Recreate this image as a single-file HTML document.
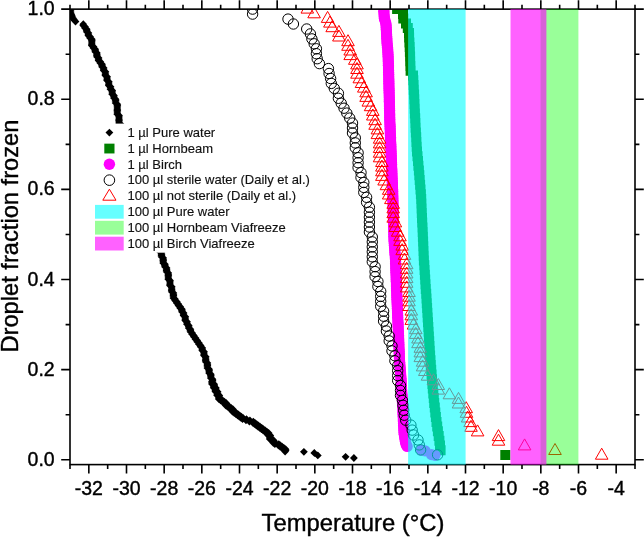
<!DOCTYPE html>
<html><head><meta charset="utf-8"><style>
html,body{margin:0;padding:0;background:#fff;}
svg{display:block;font-family:"Liberation Sans",sans-serif;fill:#000;will-change:transform;}
text{fill:#000;stroke:#000;stroke-width:0.4px;}
</style></head><body>
<svg width="644" height="537" viewBox="0 0 644 537">
<defs><clipPath id="pc"><rect x="70.0" y="9.15" width="565.0" height="455.45000000000005"/></clipPath></defs>
<rect width="644" height="537" fill="#fff"/>
<g clip-path="url(#pc)">
<path d="M70.3 5.7l3.9 3.9 -3.9 3.9 -3.9 -3.9zM70.5 6.9l3.9 3.9 -3.9 3.9 -3.9 -3.9zM70.7 8.1l3.9 3.9 -3.9 3.9 -3.9 -3.9zM70.9 9.3l3.9 3.9 -3.9 3.9 -3.9 -3.9zM71.3 10.5l3.9 3.9 -3.9 3.9 -3.9 -3.9zM71.7 11.7l3.9 3.9 -3.9 3.9 -3.9 -3.9zM72.1 12.9l3.9 3.9 -3.9 3.9 -3.9 -3.9zM72.8 14.1l3.9 3.9 -3.9 3.9 -3.9 -3.9zM73.7 15.3l3.9 3.9 -3.9 3.9 -3.9 -3.9zM74.6 16.5l3.9 3.9 -3.9 3.9 -3.9 -3.9zM75.5 17.7l3.9 3.9 -3.9 3.9 -3.9 -3.9zM83.3 20.3l3.9 3.9 -3.9 3.9 -3.9 -3.9zM83.3 21.6l3.9 3.9 -3.9 3.9 -3.9 -3.9zM85.0 22.8l3.9 3.9 -3.9 3.9 -3.9 -3.9zM85.0 24.1l3.9 3.9 -3.9 3.9 -3.9 -3.9zM86.7 25.3l3.9 3.9 -3.9 3.9 -3.9 -3.9zM86.7 26.6l3.9 3.9 -3.9 3.9 -3.9 -3.9zM86.7 27.8l3.9 3.9 -3.9 3.9 -3.9 -3.9zM88.4 29.1l3.9 3.9 -3.9 3.9 -3.9 -3.9zM88.4 30.3l3.9 3.9 -3.9 3.9 -3.9 -3.9zM88.4 31.6l3.9 3.9 -3.9 3.9 -3.9 -3.9zM90.1 32.8l3.9 3.9 -3.9 3.9 -3.9 -3.9zM90.1 34.1l3.9 3.9 -3.9 3.9 -3.9 -3.9zM91.8 35.3l3.9 3.9 -3.9 3.9 -3.9 -3.9zM91.8 36.6l3.9 3.9 -3.9 3.9 -3.9 -3.9zM91.8 37.8l3.9 3.9 -3.9 3.9 -3.9 -3.9zM91.8 39.1l3.9 3.9 -3.9 3.9 -3.9 -3.9zM91.8 40.3l3.9 3.9 -3.9 3.9 -3.9 -3.9zM91.8 41.6l3.9 3.9 -3.9 3.9 -3.9 -3.9zM93.5 42.8l3.9 3.9 -3.9 3.9 -3.9 -3.9zM93.5 44.1l3.9 3.9 -3.9 3.9 -3.9 -3.9zM95.2 45.3l3.9 3.9 -3.9 3.9 -3.9 -3.9zM95.2 46.6l3.9 3.9 -3.9 3.9 -3.9 -3.9zM95.2 47.8l3.9 3.9 -3.9 3.9 -3.9 -3.9zM96.9 49.1l3.9 3.9 -3.9 3.9 -3.9 -3.9zM96.9 50.3l3.9 3.9 -3.9 3.9 -3.9 -3.9zM96.9 51.6l3.9 3.9 -3.9 3.9 -3.9 -3.9zM96.9 52.8l3.9 3.9 -3.9 3.9 -3.9 -3.9zM98.6 54.1l3.9 3.9 -3.9 3.9 -3.9 -3.9zM98.6 55.3l3.9 3.9 -3.9 3.9 -3.9 -3.9zM98.6 56.6l3.9 3.9 -3.9 3.9 -3.9 -3.9zM100.3 57.8l3.9 3.9 -3.9 3.9 -3.9 -3.9zM100.3 59.1l3.9 3.9 -3.9 3.9 -3.9 -3.9zM102.0 60.3l3.9 3.9 -3.9 3.9 -3.9 -3.9zM102.0 61.6l3.9 3.9 -3.9 3.9 -3.9 -3.9zM102.0 62.8l3.9 3.9 -3.9 3.9 -3.9 -3.9zM103.7 64.0l3.9 3.9 -3.9 3.9 -3.9 -3.9zM103.7 65.3l3.9 3.9 -3.9 3.9 -3.9 -3.9zM103.7 66.5l3.9 3.9 -3.9 3.9 -3.9 -3.9zM105.4 67.8l3.9 3.9 -3.9 3.9 -3.9 -3.9zM105.4 69.0l3.9 3.9 -3.9 3.9 -3.9 -3.9zM105.4 70.3l3.9 3.9 -3.9 3.9 -3.9 -3.9zM105.4 71.5l3.9 3.9 -3.9 3.9 -3.9 -3.9zM107.1 72.8l3.9 3.9 -3.9 3.9 -3.9 -3.9zM107.1 74.0l3.9 3.9 -3.9 3.9 -3.9 -3.9zM107.1 75.3l3.9 3.9 -3.9 3.9 -3.9 -3.9zM107.1 76.5l3.9 3.9 -3.9 3.9 -3.9 -3.9zM108.8 77.8l3.9 3.9 -3.9 3.9 -3.9 -3.9zM108.8 79.0l3.9 3.9 -3.9 3.9 -3.9 -3.9zM108.8 80.3l3.9 3.9 -3.9 3.9 -3.9 -3.9zM108.8 81.5l3.9 3.9 -3.9 3.9 -3.9 -3.9zM110.5 82.8l3.9 3.9 -3.9 3.9 -3.9 -3.9zM110.5 84.0l3.9 3.9 -3.9 3.9 -3.9 -3.9zM110.5 85.3l3.9 3.9 -3.9 3.9 -3.9 -3.9zM112.2 86.5l3.9 3.9 -3.9 3.9 -3.9 -3.9zM112.2 87.8l3.9 3.9 -3.9 3.9 -3.9 -3.9zM112.2 89.0l3.9 3.9 -3.9 3.9 -3.9 -3.9zM112.2 90.3l3.9 3.9 -3.9 3.9 -3.9 -3.9zM113.9 91.5l3.9 3.9 -3.9 3.9 -3.9 -3.9zM113.9 92.8l3.9 3.9 -3.9 3.9 -3.9 -3.9zM113.9 94.0l3.9 3.9 -3.9 3.9 -3.9 -3.9zM115.6 95.3l3.9 3.9 -3.9 3.9 -3.9 -3.9zM115.6 96.5l3.9 3.9 -3.9 3.9 -3.9 -3.9zM115.6 97.8l3.9 3.9 -3.9 3.9 -3.9 -3.9zM115.6 99.0l3.9 3.9 -3.9 3.9 -3.9 -3.9zM117.3 100.3l3.9 3.9 -3.9 3.9 -3.9 -3.9zM117.3 101.5l3.9 3.9 -3.9 3.9 -3.9 -3.9zM117.3 102.8l3.9 3.9 -3.9 3.9 -3.9 -3.9zM117.3 104.0l3.9 3.9 -3.9 3.9 -3.9 -3.9zM117.3 105.3l3.9 3.9 -3.9 3.9 -3.9 -3.9zM117.3 106.5l3.9 3.9 -3.9 3.9 -3.9 -3.9zM117.3 107.8l3.9 3.9 -3.9 3.9 -3.9 -3.9zM117.3 109.0l3.9 3.9 -3.9 3.9 -3.9 -3.9zM117.3 110.3l3.9 3.9 -3.9 3.9 -3.9 -3.9zM119.0 111.5l3.9 3.9 -3.9 3.9 -3.9 -3.9zM119.0 112.8l3.9 3.9 -3.9 3.9 -3.9 -3.9zM119.0 114.0l3.9 3.9 -3.9 3.9 -3.9 -3.9zM119.0 115.3l3.9 3.9 -3.9 3.9 -3.9 -3.9zM119.0 116.5l3.9 3.9 -3.9 3.9 -3.9 -3.9zM119.0 117.8l3.9 3.9 -3.9 3.9 -3.9 -3.9zM119.0 119.0l3.9 3.9 -3.9 3.9 -3.9 -3.9zM120.7 120.3l3.9 3.9 -3.9 3.9 -3.9 -3.9zM120.7 121.5l3.9 3.9 -3.9 3.9 -3.9 -3.9zM120.7 122.8l3.9 3.9 -3.9 3.9 -3.9 -3.9zM120.7 124.0l3.9 3.9 -3.9 3.9 -3.9 -3.9zM120.7 125.3l3.9 3.9 -3.9 3.9 -3.9 -3.9zM122.4 126.5l3.9 3.9 -3.9 3.9 -3.9 -3.9zM122.4 127.8l3.9 3.9 -3.9 3.9 -3.9 -3.9zM122.4 129.0l3.9 3.9 -3.9 3.9 -3.9 -3.9zM122.4 130.3l3.9 3.9 -3.9 3.9 -3.9 -3.9zM124.1 131.5l3.9 3.9 -3.9 3.9 -3.9 -3.9zM124.1 132.8l3.9 3.9 -3.9 3.9 -3.9 -3.9zM124.1 134.0l3.9 3.9 -3.9 3.9 -3.9 -3.9zM124.1 135.3l3.9 3.9 -3.9 3.9 -3.9 -3.9zM125.8 136.5l3.9 3.9 -3.9 3.9 -3.9 -3.9zM125.8 137.8l3.9 3.9 -3.9 3.9 -3.9 -3.9zM125.8 139.0l3.9 3.9 -3.9 3.9 -3.9 -3.9zM125.8 140.3l3.9 3.9 -3.9 3.9 -3.9 -3.9zM125.8 141.5l3.9 3.9 -3.9 3.9 -3.9 -3.9zM127.5 142.8l3.9 3.9 -3.9 3.9 -3.9 -3.9zM127.5 144.0l3.9 3.9 -3.9 3.9 -3.9 -3.9zM127.5 145.3l3.9 3.9 -3.9 3.9 -3.9 -3.9zM127.5 146.5l3.9 3.9 -3.9 3.9 -3.9 -3.9zM129.2 147.8l3.9 3.9 -3.9 3.9 -3.9 -3.9zM129.2 149.0l3.9 3.9 -3.9 3.9 -3.9 -3.9zM129.2 150.3l3.9 3.9 -3.9 3.9 -3.9 -3.9zM129.2 151.5l3.9 3.9 -3.9 3.9 -3.9 -3.9zM130.9 152.8l3.9 3.9 -3.9 3.9 -3.9 -3.9zM130.9 154.0l3.9 3.9 -3.9 3.9 -3.9 -3.9zM130.9 155.3l3.9 3.9 -3.9 3.9 -3.9 -3.9zM130.9 156.5l3.9 3.9 -3.9 3.9 -3.9 -3.9zM132.6 157.8l3.9 3.9 -3.9 3.9 -3.9 -3.9zM132.6 159.0l3.9 3.9 -3.9 3.9 -3.9 -3.9zM132.6 160.3l3.9 3.9 -3.9 3.9 -3.9 -3.9zM132.6 161.5l3.9 3.9 -3.9 3.9 -3.9 -3.9zM132.6 162.8l3.9 3.9 -3.9 3.9 -3.9 -3.9zM134.3 164.0l3.9 3.9 -3.9 3.9 -3.9 -3.9zM134.3 165.3l3.9 3.9 -3.9 3.9 -3.9 -3.9zM134.3 166.5l3.9 3.9 -3.9 3.9 -3.9 -3.9zM134.3 167.8l3.9 3.9 -3.9 3.9 -3.9 -3.9zM136.0 169.0l3.9 3.9 -3.9 3.9 -3.9 -3.9zM136.0 170.3l3.9 3.9 -3.9 3.9 -3.9 -3.9zM136.0 171.5l3.9 3.9 -3.9 3.9 -3.9 -3.9zM136.0 172.8l3.9 3.9 -3.9 3.9 -3.9 -3.9zM137.7 174.0l3.9 3.9 -3.9 3.9 -3.9 -3.9zM137.7 175.3l3.9 3.9 -3.9 3.9 -3.9 -3.9zM137.7 176.5l3.9 3.9 -3.9 3.9 -3.9 -3.9zM137.7 177.8l3.9 3.9 -3.9 3.9 -3.9 -3.9zM139.4 179.0l3.9 3.9 -3.9 3.9 -3.9 -3.9zM139.4 180.3l3.9 3.9 -3.9 3.9 -3.9 -3.9zM139.4 181.5l3.9 3.9 -3.9 3.9 -3.9 -3.9zM139.4 182.8l3.9 3.9 -3.9 3.9 -3.9 -3.9zM139.4 184.0l3.9 3.9 -3.9 3.9 -3.9 -3.9zM141.1 185.3l3.9 3.9 -3.9 3.9 -3.9 -3.9zM141.1 186.5l3.9 3.9 -3.9 3.9 -3.9 -3.9zM141.1 187.8l3.9 3.9 -3.9 3.9 -3.9 -3.9zM141.1 189.0l3.9 3.9 -3.9 3.9 -3.9 -3.9zM142.8 190.3l3.9 3.9 -3.9 3.9 -3.9 -3.9zM142.8 191.5l3.9 3.9 -3.9 3.9 -3.9 -3.9zM142.8 192.8l3.9 3.9 -3.9 3.9 -3.9 -3.9zM142.8 194.0l3.9 3.9 -3.9 3.9 -3.9 -3.9zM144.5 195.3l3.9 3.9 -3.9 3.9 -3.9 -3.9zM144.5 196.5l3.9 3.9 -3.9 3.9 -3.9 -3.9zM144.5 197.8l3.9 3.9 -3.9 3.9 -3.9 -3.9zM144.5 199.0l3.9 3.9 -3.9 3.9 -3.9 -3.9zM144.5 200.3l3.9 3.9 -3.9 3.9 -3.9 -3.9zM146.2 201.5l3.9 3.9 -3.9 3.9 -3.9 -3.9zM146.2 202.8l3.9 3.9 -3.9 3.9 -3.9 -3.9zM146.2 204.0l3.9 3.9 -3.9 3.9 -3.9 -3.9zM146.2 205.3l3.9 3.9 -3.9 3.9 -3.9 -3.9zM147.9 206.5l3.9 3.9 -3.9 3.9 -3.9 -3.9zM147.9 207.8l3.9 3.9 -3.9 3.9 -3.9 -3.9zM147.9 209.0l3.9 3.9 -3.9 3.9 -3.9 -3.9zM147.9 210.3l3.9 3.9 -3.9 3.9 -3.9 -3.9zM149.6 211.5l3.9 3.9 -3.9 3.9 -3.9 -3.9zM149.6 212.8l3.9 3.9 -3.9 3.9 -3.9 -3.9zM149.6 214.0l3.9 3.9 -3.9 3.9 -3.9 -3.9zM149.6 215.3l3.9 3.9 -3.9 3.9 -3.9 -3.9zM151.3 216.5l3.9 3.9 -3.9 3.9 -3.9 -3.9zM151.3 217.8l3.9 3.9 -3.9 3.9 -3.9 -3.9zM151.3 219.0l3.9 3.9 -3.9 3.9 -3.9 -3.9zM151.3 220.3l3.9 3.9 -3.9 3.9 -3.9 -3.9zM151.3 221.5l3.9 3.9 -3.9 3.9 -3.9 -3.9zM153.0 222.8l3.9 3.9 -3.9 3.9 -3.9 -3.9zM153.0 224.0l3.9 3.9 -3.9 3.9 -3.9 -3.9zM153.0 225.3l3.9 3.9 -3.9 3.9 -3.9 -3.9zM153.0 226.5l3.9 3.9 -3.9 3.9 -3.9 -3.9zM154.7 227.8l3.9 3.9 -3.9 3.9 -3.9 -3.9zM154.7 229.0l3.9 3.9 -3.9 3.9 -3.9 -3.9zM154.7 230.3l3.9 3.9 -3.9 3.9 -3.9 -3.9zM154.7 231.5l3.9 3.9 -3.9 3.9 -3.9 -3.9zM156.4 232.8l3.9 3.9 -3.9 3.9 -3.9 -3.9zM156.4 234.0l3.9 3.9 -3.9 3.9 -3.9 -3.9zM156.4 235.3l3.9 3.9 -3.9 3.9 -3.9 -3.9zM156.4 236.5l3.9 3.9 -3.9 3.9 -3.9 -3.9zM158.1 237.8l3.9 3.9 -3.9 3.9 -3.9 -3.9zM158.1 239.0l3.9 3.9 -3.9 3.9 -3.9 -3.9zM158.1 240.3l3.9 3.9 -3.9 3.9 -3.9 -3.9zM158.1 241.5l3.9 3.9 -3.9 3.9 -3.9 -3.9zM158.1 242.8l3.9 3.9 -3.9 3.9 -3.9 -3.9zM159.8 244.0l3.9 3.9 -3.9 3.9 -3.9 -3.9zM159.8 245.3l3.9 3.9 -3.9 3.9 -3.9 -3.9zM159.8 246.5l3.9 3.9 -3.9 3.9 -3.9 -3.9zM159.8 247.8l3.9 3.9 -3.9 3.9 -3.9 -3.9zM161.5 249.0l3.9 3.9 -3.9 3.9 -3.9 -3.9zM161.5 250.3l3.9 3.9 -3.9 3.9 -3.9 -3.9zM161.5 251.5l3.9 3.9 -3.9 3.9 -3.9 -3.9zM161.5 252.8l3.9 3.9 -3.9 3.9 -3.9 -3.9zM163.2 254.0l3.9 3.9 -3.9 3.9 -3.9 -3.9zM163.2 255.3l3.9 3.9 -3.9 3.9 -3.9 -3.9zM163.2 256.6l3.9 3.9 -3.9 3.9 -3.9 -3.9zM163.2 257.8l3.9 3.9 -3.9 3.9 -3.9 -3.9zM163.2 259.1l3.9 3.9 -3.9 3.9 -3.9 -3.9zM164.9 260.3l3.9 3.9 -3.9 3.9 -3.9 -3.9zM164.9 261.6l3.9 3.9 -3.9 3.9 -3.9 -3.9zM164.9 262.8l3.9 3.9 -3.9 3.9 -3.9 -3.9zM166.6 264.1l3.9 3.9 -3.9 3.9 -3.9 -3.9zM166.6 265.3l3.9 3.9 -3.9 3.9 -3.9 -3.9zM166.6 266.6l3.9 3.9 -3.9 3.9 -3.9 -3.9zM166.6 267.8l3.9 3.9 -3.9 3.9 -3.9 -3.9zM168.3 269.1l3.9 3.9 -3.9 3.9 -3.9 -3.9zM168.3 270.3l3.9 3.9 -3.9 3.9 -3.9 -3.9zM168.3 271.6l3.9 3.9 -3.9 3.9 -3.9 -3.9zM168.3 272.8l3.9 3.9 -3.9 3.9 -3.9 -3.9zM168.3 274.1l3.9 3.9 -3.9 3.9 -3.9 -3.9zM168.3 275.3l3.9 3.9 -3.9 3.9 -3.9 -3.9zM170.0 276.6l3.9 3.9 -3.9 3.9 -3.9 -3.9zM170.0 277.8l3.9 3.9 -3.9 3.9 -3.9 -3.9zM170.0 279.1l3.9 3.9 -3.9 3.9 -3.9 -3.9zM170.0 280.3l3.9 3.9 -3.9 3.9 -3.9 -3.9zM170.0 281.6l3.9 3.9 -3.9 3.9 -3.9 -3.9zM171.7 282.8l3.9 3.9 -3.9 3.9 -3.9 -3.9zM171.7 284.1l3.9 3.9 -3.9 3.9 -3.9 -3.9zM171.7 285.3l3.9 3.9 -3.9 3.9 -3.9 -3.9zM171.7 286.6l3.9 3.9 -3.9 3.9 -3.9 -3.9zM171.7 287.8l3.9 3.9 -3.9 3.9 -3.9 -3.9zM173.4 289.1l3.9 3.9 -3.9 3.9 -3.9 -3.9zM173.4 290.3l3.9 3.9 -3.9 3.9 -3.9 -3.9zM173.4 291.6l3.9 3.9 -3.9 3.9 -3.9 -3.9zM173.4 292.8l3.9 3.9 -3.9 3.9 -3.9 -3.9zM173.4 294.1l3.9 3.9 -3.9 3.9 -3.9 -3.9zM175.1 295.3l3.9 3.9 -3.9 3.9 -3.9 -3.9zM175.1 296.6l3.9 3.9 -3.9 3.9 -3.9 -3.9zM176.8 297.8l3.9 3.9 -3.9 3.9 -3.9 -3.9zM176.8 299.1l3.9 3.9 -3.9 3.9 -3.9 -3.9zM178.5 300.3l3.9 3.9 -3.9 3.9 -3.9 -3.9zM178.5 301.6l3.9 3.9 -3.9 3.9 -3.9 -3.9zM180.2 302.8l3.9 3.9 -3.9 3.9 -3.9 -3.9zM180.2 304.1l3.9 3.9 -3.9 3.9 -3.9 -3.9zM181.9 305.3l3.9 3.9 -3.9 3.9 -3.9 -3.9zM181.9 306.6l3.9 3.9 -3.9 3.9 -3.9 -3.9zM181.9 307.8l3.9 3.9 -3.9 3.9 -3.9 -3.9zM183.6 309.1l3.9 3.9 -3.9 3.9 -3.9 -3.9zM183.6 310.3l3.9 3.9 -3.9 3.9 -3.9 -3.9zM183.6 311.6l3.9 3.9 -3.9 3.9 -3.9 -3.9zM185.3 312.8l3.9 3.9 -3.9 3.9 -3.9 -3.9zM185.3 314.1l3.9 3.9 -3.9 3.9 -3.9 -3.9zM185.3 315.3l3.9 3.9 -3.9 3.9 -3.9 -3.9zM185.3 316.6l3.9 3.9 -3.9 3.9 -3.9 -3.9zM187.0 317.8l3.9 3.9 -3.9 3.9 -3.9 -3.9zM187.0 319.1l3.9 3.9 -3.9 3.9 -3.9 -3.9zM187.0 320.3l3.9 3.9 -3.9 3.9 -3.9 -3.9zM188.7 321.6l3.9 3.9 -3.9 3.9 -3.9 -3.9zM188.7 322.8l3.9 3.9 -3.9 3.9 -3.9 -3.9zM188.7 324.1l3.9 3.9 -3.9 3.9 -3.9 -3.9zM190.4 325.3l3.9 3.9 -3.9 3.9 -3.9 -3.9zM190.4 326.6l3.9 3.9 -3.9 3.9 -3.9 -3.9zM190.4 327.8l3.9 3.9 -3.9 3.9 -3.9 -3.9zM192.1 329.1l3.9 3.9 -3.9 3.9 -3.9 -3.9zM192.1 330.3l3.9 3.9 -3.9 3.9 -3.9 -3.9zM193.8 331.6l3.9 3.9 -3.9 3.9 -3.9 -3.9zM193.8 332.8l3.9 3.9 -3.9 3.9 -3.9 -3.9zM195.5 334.1l3.9 3.9 -3.9 3.9 -3.9 -3.9zM195.5 335.3l3.9 3.9 -3.9 3.9 -3.9 -3.9zM197.2 336.6l3.9 3.9 -3.9 3.9 -3.9 -3.9zM197.2 337.8l3.9 3.9 -3.9 3.9 -3.9 -3.9zM198.9 339.1l3.9 3.9 -3.9 3.9 -3.9 -3.9zM198.9 340.3l3.9 3.9 -3.9 3.9 -3.9 -3.9zM200.6 341.6l3.9 3.9 -3.9 3.9 -3.9 -3.9zM200.6 342.8l3.9 3.9 -3.9 3.9 -3.9 -3.9zM202.3 344.1l3.9 3.9 -3.9 3.9 -3.9 -3.9zM202.3 345.3l3.9 3.9 -3.9 3.9 -3.9 -3.9zM202.3 346.6l3.9 3.9 -3.9 3.9 -3.9 -3.9zM204.0 347.8l3.9 3.9 -3.9 3.9 -3.9 -3.9zM204.0 349.1l3.9 3.9 -3.9 3.9 -3.9 -3.9zM204.0 350.3l3.9 3.9 -3.9 3.9 -3.9 -3.9zM204.0 351.6l3.9 3.9 -3.9 3.9 -3.9 -3.9zM205.7 352.8l3.9 3.9 -3.9 3.9 -3.9 -3.9zM205.7 354.1l3.9 3.9 -3.9 3.9 -3.9 -3.9zM205.7 355.3l3.9 3.9 -3.9 3.9 -3.9 -3.9zM205.7 356.6l3.9 3.9 -3.9 3.9 -3.9 -3.9zM205.7 357.8l3.9 3.9 -3.9 3.9 -3.9 -3.9zM207.4 359.1l3.9 3.9 -3.9 3.9 -3.9 -3.9zM207.4 360.3l3.9 3.9 -3.9 3.9 -3.9 -3.9zM207.4 361.6l3.9 3.9 -3.9 3.9 -3.9 -3.9zM207.4 362.8l3.9 3.9 -3.9 3.9 -3.9 -3.9zM207.4 364.1l3.9 3.9 -3.9 3.9 -3.9 -3.9zM209.1 365.3l3.9 3.9 -3.9 3.9 -3.9 -3.9zM209.1 366.6l3.9 3.9 -3.9 3.9 -3.9 -3.9zM209.1 367.8l3.9 3.9 -3.9 3.9 -3.9 -3.9zM209.1 369.1l3.9 3.9 -3.9 3.9 -3.9 -3.9zM210.8 370.3l3.9 3.9 -3.9 3.9 -3.9 -3.9zM210.8 371.6l3.9 3.9 -3.9 3.9 -3.9 -3.9zM210.8 372.8l3.9 3.9 -3.9 3.9 -3.9 -3.9zM210.8 374.1l3.9 3.9 -3.9 3.9 -3.9 -3.9zM212.5 375.3l3.9 3.9 -3.9 3.9 -3.9 -3.9zM212.5 376.6l3.9 3.9 -3.9 3.9 -3.9 -3.9zM212.5 377.8l3.9 3.9 -3.9 3.9 -3.9 -3.9zM212.5 379.1l3.9 3.9 -3.9 3.9 -3.9 -3.9zM214.2 380.3l3.9 3.9 -3.9 3.9 -3.9 -3.9zM214.2 381.6l3.9 3.9 -3.9 3.9 -3.9 -3.9zM214.2 382.8l3.9 3.9 -3.9 3.9 -3.9 -3.9zM215.9 384.1l3.9 3.9 -3.9 3.9 -3.9 -3.9zM215.9 385.3l3.9 3.9 -3.9 3.9 -3.9 -3.9zM215.9 386.6l3.9 3.9 -3.9 3.9 -3.9 -3.9zM217.6 387.8l3.9 3.9 -3.9 3.9 -3.9 -3.9zM217.6 389.1l3.9 3.9 -3.9 3.9 -3.9 -3.9zM217.6 390.3l3.9 3.9 -3.9 3.9 -3.9 -3.9zM219.3 391.6l3.9 3.9 -3.9 3.9 -3.9 -3.9zM219.3 392.8l3.9 3.9 -3.9 3.9 -3.9 -3.9zM219.3 394.1l3.9 3.9 -3.9 3.9 -3.9 -3.9zM221.0 395.3l3.9 3.9 -3.9 3.9 -3.9 -3.9zM222.7 396.6l3.9 3.9 -3.9 3.9 -3.9 -3.9zM224.4 397.8l3.9 3.9 -3.9 3.9 -3.9 -3.9zM226.1 399.1l3.9 3.9 -3.9 3.9 -3.9 -3.9zM226.1 400.3l3.9 3.9 -3.9 3.9 -3.9 -3.9zM227.8 401.6l3.9 3.9 -3.9 3.9 -3.9 -3.9zM229.5 402.8l3.9 3.9 -3.9 3.9 -3.9 -3.9zM231.2 404.1l3.9 3.9 -3.9 3.9 -3.9 -3.9zM232.9 405.3l3.9 3.9 -3.9 3.9 -3.9 -3.9zM232.9 406.6l3.9 3.9 -3.9 3.9 -3.9 -3.9zM234.6 407.8l3.9 3.9 -3.9 3.9 -3.9 -3.9zM236.3 409.1l3.9 3.9 -3.9 3.9 -3.9 -3.9zM238.0 410.3l3.9 3.9 -3.9 3.9 -3.9 -3.9zM239.7 411.6l3.9 3.9 -3.9 3.9 -3.9 -3.9zM241.4 412.8l3.9 3.9 -3.9 3.9 -3.9 -3.9zM243.1 414.1l3.9 3.9 -3.9 3.9 -3.9 -3.9zM246.5 415.3l3.9 3.9 -3.9 3.9 -3.9 -3.9zM249.9 416.6l3.9 3.9 -3.9 3.9 -3.9 -3.9zM253.3 417.8l3.9 3.9 -3.9 3.9 -3.9 -3.9zM255.0 419.1l3.9 3.9 -3.9 3.9 -3.9 -3.9zM256.7 420.3l3.9 3.9 -3.9 3.9 -3.9 -3.9zM258.4 421.6l3.9 3.9 -3.9 3.9 -3.9 -3.9zM260.1 422.8l3.9 3.9 -3.9 3.9 -3.9 -3.9zM261.8 424.1l3.9 3.9 -3.9 3.9 -3.9 -3.9zM263.5 425.3l3.9 3.9 -3.9 3.9 -3.9 -3.9zM265.2 426.6l3.9 3.9 -3.9 3.9 -3.9 -3.9zM266.9 427.8l3.9 3.9 -3.9 3.9 -3.9 -3.9zM268.6 429.1l3.9 3.9 -3.9 3.9 -3.9 -3.9zM268.6 430.3l3.9 3.9 -3.9 3.9 -3.9 -3.9zM270.3 431.6l3.9 3.9 -3.9 3.9 -3.9 -3.9zM270.3 432.8l3.9 3.9 -3.9 3.9 -3.9 -3.9zM270.3 434.1l3.9 3.9 -3.9 3.9 -3.9 -3.9zM272.0 435.3l3.9 3.9 -3.9 3.9 -3.9 -3.9zM273.7 436.6l3.9 3.9 -3.9 3.9 -3.9 -3.9zM273.7 437.8l3.9 3.9 -3.9 3.9 -3.9 -3.9zM275.4 439.1l3.9 3.9 -3.9 3.9 -3.9 -3.9zM278.8 440.3l3.9 3.9 -3.9 3.9 -3.9 -3.9zM280.5 441.6l3.9 3.9 -3.9 3.9 -3.9 -3.9zM282.2 442.8l3.9 3.9 -3.9 3.9 -3.9 -3.9zM283.9 444.1l3.9 3.9 -3.9 3.9 -3.9 -3.9zM285.6 445.3l3.9 3.9 -3.9 3.9 -3.9 -3.9zM285.6 446.6l3.9 3.9 -3.9 3.9 -3.9 -3.9zM212.0 377.7l3.9 3.9 -3.9 3.9 -3.9 -3.9zM212.0 378.9l3.9 3.9 -3.9 3.9 -3.9 -3.9zM212.0 380.2l3.9 3.9 -3.9 3.9 -3.9 -3.9zM213.7 381.4l3.9 3.9 -3.9 3.9 -3.9 -3.9zM213.7 382.7l3.9 3.9 -3.9 3.9 -3.9 -3.9zM213.7 383.9l3.9 3.9 -3.9 3.9 -3.9 -3.9zM215.4 385.2l3.9 3.9 -3.9 3.9 -3.9 -3.9zM215.4 386.4l3.9 3.9 -3.9 3.9 -3.9 -3.9zM215.4 387.7l3.9 3.9 -3.9 3.9 -3.9 -3.9zM217.1 388.9l3.9 3.9 -3.9 3.9 -3.9 -3.9zM217.1 390.2l3.9 3.9 -3.9 3.9 -3.9 -3.9zM217.1 391.4l3.9 3.9 -3.9 3.9 -3.9 -3.9zM218.8 392.7l3.9 3.9 -3.9 3.9 -3.9 -3.9zM218.8 393.9l3.9 3.9 -3.9 3.9 -3.9 -3.9zM218.8 395.2l3.9 3.9 -3.9 3.9 -3.9 -3.9zM220.5 396.4l3.9 3.9 -3.9 3.9 -3.9 -3.9zM222.2 397.7l3.9 3.9 -3.9 3.9 -3.9 -3.9zM223.9 398.9l3.9 3.9 -3.9 3.9 -3.9 -3.9zM225.6 400.2l3.9 3.9 -3.9 3.9 -3.9 -3.9zM225.6 401.4l3.9 3.9 -3.9 3.9 -3.9 -3.9zM227.3 402.7l3.9 3.9 -3.9 3.9 -3.9 -3.9zM229.0 403.9l3.9 3.9 -3.9 3.9 -3.9 -3.9zM230.7 405.2l3.9 3.9 -3.9 3.9 -3.9 -3.9zM232.4 406.4l3.9 3.9 -3.9 3.9 -3.9 -3.9zM232.4 407.7l3.9 3.9 -3.9 3.9 -3.9 -3.9zM234.1 408.9l3.9 3.9 -3.9 3.9 -3.9 -3.9zM235.8 410.2l3.9 3.9 -3.9 3.9 -3.9 -3.9zM237.5 411.4l3.9 3.9 -3.9 3.9 -3.9 -3.9zM239.2 412.7l3.9 3.9 -3.9 3.9 -3.9 -3.9zM240.9 413.9l3.9 3.9 -3.9 3.9 -3.9 -3.9zM242.6 415.2l3.9 3.9 -3.9 3.9 -3.9 -3.9zM246.0 416.4l3.9 3.9 -3.9 3.9 -3.9 -3.9zM249.4 417.7l3.9 3.9 -3.9 3.9 -3.9 -3.9zM252.8 418.9l3.9 3.9 -3.9 3.9 -3.9 -3.9zM254.5 420.2l3.9 3.9 -3.9 3.9 -3.9 -3.9zM256.2 421.4l3.9 3.9 -3.9 3.9 -3.9 -3.9zM257.9 422.7l3.9 3.9 -3.9 3.9 -3.9 -3.9zM259.6 423.9l3.9 3.9 -3.9 3.9 -3.9 -3.9zM261.3 425.2l3.9 3.9 -3.9 3.9 -3.9 -3.9zM263.0 426.4l3.9 3.9 -3.9 3.9 -3.9 -3.9zM264.7 427.7l3.9 3.9 -3.9 3.9 -3.9 -3.9zM266.4 428.9l3.9 3.9 -3.9 3.9 -3.9 -3.9zM268.1 430.2l3.9 3.9 -3.9 3.9 -3.9 -3.9zM268.1 431.4l3.9 3.9 -3.9 3.9 -3.9 -3.9zM269.8 432.7l3.9 3.9 -3.9 3.9 -3.9 -3.9zM269.8 433.9l3.9 3.9 -3.9 3.9 -3.9 -3.9zM269.8 435.2l3.9 3.9 -3.9 3.9 -3.9 -3.9zM271.5 436.4l3.9 3.9 -3.9 3.9 -3.9 -3.9zM273.2 437.7l3.9 3.9 -3.9 3.9 -3.9 -3.9zM273.2 438.9l3.9 3.9 -3.9 3.9 -3.9 -3.9zM274.9 440.2l3.9 3.9 -3.9 3.9 -3.9 -3.9zM278.3 441.4l3.9 3.9 -3.9 3.9 -3.9 -3.9zM280.0 442.7l3.9 3.9 -3.9 3.9 -3.9 -3.9zM281.7 443.9l3.9 3.9 -3.9 3.9 -3.9 -3.9zM283.4 445.2l3.9 3.9 -3.9 3.9 -3.9 -3.9zM285.1 446.4l3.9 3.9 -3.9 3.9 -3.9 -3.9zM285.1 447.7l3.9 3.9 -3.9 3.9 -3.9 -3.9zM303.9 447.9l3.9 3.9 -3.9 3.9 -3.9 -3.9zM314.3 449.0l3.9 3.9 -3.9 3.9 -3.9 -3.9zM317.8 451.5l3.9 3.9 -3.9 3.9 -3.9 -3.9zM345.6 452.9l3.9 3.9 -3.9 3.9 -3.9 -3.9zM353.9 454.1l3.9 3.9 -3.9 3.9 -3.9 -3.9z" fill="#000"/>
<path d="M392.1 4.1h10.0v10.0h-10.0zM398.0 8.9h10.0v10.0h-10.0zM398.3 13.6h10.0v10.0h-10.0zM401.0 18.4h10.0v10.0h-10.0zM402.8 23.1h10.0v10.0h-10.0zM404.0 27.9h10.0v10.0h-10.0zM404.1 32.6h10.0v10.0h-10.0zM404.4 37.4h10.0v10.0h-10.0zM404.7 42.1h10.0v10.0h-10.0zM404.9 46.8h10.0v10.0h-10.0zM405.1 51.6h10.0v10.0h-10.0zM405.2 56.3h10.0v10.0h-10.0zM405.4 61.1h10.0v10.0h-10.0zM405.6 65.8h10.0v10.0h-10.0zM408.0 70.6h10.0v10.0h-10.0zM408.3 75.3h10.0v10.0h-10.0zM408.6 80.0h10.0v10.0h-10.0zM408.8 84.8h10.0v10.0h-10.0zM409.1 89.5h10.0v10.0h-10.0zM409.3 94.3h10.0v10.0h-10.0zM409.5 99.0h10.0v10.0h-10.0zM409.7 103.8h10.0v10.0h-10.0zM409.9 108.5h10.0v10.0h-10.0zM410.2 113.3h10.0v10.0h-10.0zM410.4 118.0h10.0v10.0h-10.0zM410.6 122.7h10.0v10.0h-10.0zM410.9 127.5h10.0v10.0h-10.0zM411.2 132.2h10.0v10.0h-10.0zM411.4 137.0h10.0v10.0h-10.0zM411.7 141.7h10.0v10.0h-10.0zM412.0 146.5h10.0v10.0h-10.0zM412.5 151.2h10.0v10.0h-10.0zM413.0 155.9h10.0v10.0h-10.0zM413.4 160.7h10.0v10.0h-10.0zM413.9 165.4h10.0v10.0h-10.0zM414.3 170.2h10.0v10.0h-10.0zM414.7 174.9h10.0v10.0h-10.0zM415.1 179.7h10.0v10.0h-10.0zM415.5 184.4h10.0v10.0h-10.0zM415.9 189.2h10.0v10.0h-10.0zM416.2 193.9h10.0v10.0h-10.0zM416.4 198.6h10.0v10.0h-10.0zM416.6 203.4h10.0v10.0h-10.0zM416.8 208.1h10.0v10.0h-10.0zM417.0 212.9h10.0v10.0h-10.0zM417.2 217.6h10.0v10.0h-10.0zM417.5 222.4h10.0v10.0h-10.0zM417.7 227.1h10.0v10.0h-10.0zM417.9 231.8h10.0v10.0h-10.0zM418.1 236.6h10.0v10.0h-10.0zM418.3 241.3h10.0v10.0h-10.0zM418.5 246.1h10.0v10.0h-10.0zM418.7 250.8h10.0v10.0h-10.0zM418.9 255.6h10.0v10.0h-10.0zM419.3 260.3h10.0v10.0h-10.0zM419.6 265.1h10.0v10.0h-10.0zM419.9 269.8h10.0v10.0h-10.0zM420.2 274.5h10.0v10.0h-10.0zM420.5 279.3h10.0v10.0h-10.0zM420.8 284.0h10.0v10.0h-10.0zM421.2 288.8h10.0v10.0h-10.0zM421.5 293.5h10.0v10.0h-10.0zM421.8 298.3h10.0v10.0h-10.0zM422.1 303.0h10.0v10.0h-10.0zM422.4 307.7h10.0v10.0h-10.0zM422.7 312.5h10.0v10.0h-10.0zM423.0 317.2h10.0v10.0h-10.0zM423.3 322.0h10.0v10.0h-10.0zM423.6 326.7h10.0v10.0h-10.0zM423.9 331.5h10.0v10.0h-10.0zM424.2 336.2h10.0v10.0h-10.0zM424.5 341.0h10.0v10.0h-10.0zM424.8 345.7h10.0v10.0h-10.0zM425.1 350.4h10.0v10.0h-10.0zM425.5 355.2h10.0v10.0h-10.0zM425.8 359.9h10.0v10.0h-10.0zM426.2 364.7h10.0v10.0h-10.0zM426.6 369.4h10.0v10.0h-10.0zM427.0 374.2h10.0v10.0h-10.0zM427.4 378.9h10.0v10.0h-10.0zM427.8 383.6h10.0v10.0h-10.0zM428.3 388.4h10.0v10.0h-10.0zM428.8 393.1h10.0v10.0h-10.0zM429.2 397.9h10.0v10.0h-10.0zM429.8 402.6h10.0v10.0h-10.0zM430.3 407.4h10.0v10.0h-10.0zM430.9 412.1h10.0v10.0h-10.0zM431.5 416.9h10.0v10.0h-10.0zM432.2 421.6h10.0v10.0h-10.0zM432.9 426.3h10.0v10.0h-10.0zM433.7 431.1h10.0v10.0h-10.0zM434.4 435.8h10.0v10.0h-10.0zM435.0 440.6h10.0v10.0h-10.0zM435.6 445.3h10.0v10.0h-10.0zM500.3 450.1h10.0v10.0h-10.0z" fill="#008000"/>
<g fill="#f0f"><circle cx="383.8" cy="9.5" r="5.6"/><circle cx="383.9" cy="11.3" r="5.6"/><circle cx="383.9" cy="13.1" r="5.6"/><circle cx="384.1" cy="14.9" r="5.6"/><circle cx="384.2" cy="16.7" r="5.6"/><circle cx="384.4" cy="18.5" r="5.6"/><circle cx="384.9" cy="20.3" r="5.6"/><circle cx="385.5" cy="22.1" r="5.6"/><circle cx="386.0" cy="23.9" r="5.6"/><circle cx="386.1" cy="25.7" r="5.6"/><circle cx="386.2" cy="27.5" r="5.6"/><circle cx="386.3" cy="29.3" r="5.6"/><circle cx="386.4" cy="31.1" r="5.6"/><circle cx="386.5" cy="32.9" r="5.6"/><circle cx="386.6" cy="34.7" r="5.6"/><circle cx="386.7" cy="36.5" r="5.6"/><circle cx="386.8" cy="38.3" r="5.6"/><circle cx="386.9" cy="40.1" r="5.6"/><circle cx="387.0" cy="41.9" r="5.6"/><circle cx="387.1" cy="43.7" r="5.6"/><circle cx="387.3" cy="45.5" r="5.6"/><circle cx="387.5" cy="47.3" r="5.6"/><circle cx="387.7" cy="49.1" r="5.6"/><circle cx="387.8" cy="50.9" r="5.6"/><circle cx="387.9" cy="52.7" r="5.6"/><circle cx="388.0" cy="54.5" r="5.6"/><circle cx="388.1" cy="56.3" r="5.6"/><circle cx="388.2" cy="58.1" r="5.6"/><circle cx="388.2" cy="59.9" r="5.6"/><circle cx="388.3" cy="61.7" r="5.6"/><circle cx="388.4" cy="63.5" r="5.6"/><circle cx="388.4" cy="65.3" r="5.6"/><circle cx="388.5" cy="67.1" r="5.6"/><circle cx="388.5" cy="68.9" r="5.6"/><circle cx="388.6" cy="70.7" r="5.6"/><circle cx="388.6" cy="72.5" r="5.6"/><circle cx="388.7" cy="74.3" r="5.6"/><circle cx="388.7" cy="76.1" r="5.6"/><circle cx="388.8" cy="77.9" r="5.6"/><circle cx="388.8" cy="79.7" r="5.6"/><circle cx="388.9" cy="81.5" r="5.6"/><circle cx="388.9" cy="83.3" r="5.6"/><circle cx="388.9" cy="85.1" r="5.6"/><circle cx="389.0" cy="86.9" r="5.6"/><circle cx="389.0" cy="88.7" r="5.6"/><circle cx="389.1" cy="90.5" r="5.6"/><circle cx="389.1" cy="92.3" r="5.6"/><circle cx="389.2" cy="94.1" r="5.6"/><circle cx="389.2" cy="95.9" r="5.6"/><circle cx="389.3" cy="97.7" r="5.6"/><circle cx="389.3" cy="99.5" r="5.6"/><circle cx="389.3" cy="101.3" r="5.6"/><circle cx="389.4" cy="103.1" r="5.6"/><circle cx="389.4" cy="104.9" r="5.6"/><circle cx="389.5" cy="106.7" r="5.6"/><circle cx="389.5" cy="108.5" r="5.6"/><circle cx="389.6" cy="110.3" r="5.6"/><circle cx="389.6" cy="112.1" r="5.6"/><circle cx="389.7" cy="113.9" r="5.6"/><circle cx="389.7" cy="115.7" r="5.6"/><circle cx="389.7" cy="117.5" r="5.6"/><circle cx="389.8" cy="119.3" r="5.6"/><circle cx="389.8" cy="121.1" r="5.6"/><circle cx="389.9" cy="122.9" r="5.6"/><circle cx="390.0" cy="124.7" r="5.6"/><circle cx="390.1" cy="126.5" r="5.6"/><circle cx="390.1" cy="128.3" r="5.6"/><circle cx="390.2" cy="130.1" r="5.6"/><circle cx="390.3" cy="131.9" r="5.6"/><circle cx="390.3" cy="133.7" r="5.6"/><circle cx="390.4" cy="135.5" r="5.6"/><circle cx="390.5" cy="137.3" r="5.6"/><circle cx="390.6" cy="139.1" r="5.6"/><circle cx="390.6" cy="140.9" r="5.6"/><circle cx="390.7" cy="142.7" r="5.6"/><circle cx="390.8" cy="144.5" r="5.6"/><circle cx="390.9" cy="146.3" r="5.6"/><circle cx="390.9" cy="148.1" r="5.6"/><circle cx="391.0" cy="149.9" r="5.6"/><circle cx="391.1" cy="151.7" r="5.6"/><circle cx="391.1" cy="153.5" r="5.6"/><circle cx="391.2" cy="155.3" r="5.6"/><circle cx="391.3" cy="157.1" r="5.6"/><circle cx="391.4" cy="158.9" r="5.6"/><circle cx="391.4" cy="160.7" r="5.6"/><circle cx="391.5" cy="162.5" r="5.6"/><circle cx="391.6" cy="164.3" r="5.6"/><circle cx="391.6" cy="166.1" r="5.6"/><circle cx="391.7" cy="167.9" r="5.6"/><circle cx="391.8" cy="169.7" r="5.6"/><circle cx="391.9" cy="171.5" r="5.6"/><circle cx="391.9" cy="173.3" r="5.6"/><circle cx="392.0" cy="175.1" r="5.6"/><circle cx="392.1" cy="176.9" r="5.6"/><circle cx="392.1" cy="178.7" r="5.6"/><circle cx="392.2" cy="180.5" r="5.6"/><circle cx="392.3" cy="182.3" r="5.6"/><circle cx="392.4" cy="184.1" r="5.6"/><circle cx="392.4" cy="185.9" r="5.6"/><circle cx="392.5" cy="187.7" r="5.6"/><circle cx="392.6" cy="189.5" r="5.6"/><circle cx="392.7" cy="191.3" r="5.6"/><circle cx="392.7" cy="193.1" r="5.6"/><circle cx="392.8" cy="194.9" r="5.6"/><circle cx="392.8" cy="196.7" r="5.6"/><circle cx="392.9" cy="198.5" r="5.6"/><circle cx="392.9" cy="200.3" r="5.6"/><circle cx="393.0" cy="202.1" r="5.6"/><circle cx="393.0" cy="203.9" r="5.6"/><circle cx="393.1" cy="205.7" r="5.6"/><circle cx="393.1" cy="207.5" r="5.6"/><circle cx="393.2" cy="209.3" r="5.6"/><circle cx="393.2" cy="211.1" r="5.6"/><circle cx="393.3" cy="212.9" r="5.6"/><circle cx="393.3" cy="214.7" r="5.6"/><circle cx="393.4" cy="216.5" r="5.6"/><circle cx="393.4" cy="218.3" r="5.6"/><circle cx="393.5" cy="220.1" r="5.6"/><circle cx="393.5" cy="221.9" r="5.6"/><circle cx="393.6" cy="223.7" r="5.6"/><circle cx="393.6" cy="225.5" r="5.6"/><circle cx="393.7" cy="227.3" r="5.6"/><circle cx="393.7" cy="229.1" r="5.6"/><circle cx="393.8" cy="230.9" r="5.6"/><circle cx="393.8" cy="232.7" r="5.6"/><circle cx="393.9" cy="234.5" r="5.6"/><circle cx="393.9" cy="236.3" r="5.6"/><circle cx="393.9" cy="238.1" r="5.6"/><circle cx="394.0" cy="239.9" r="5.6"/><circle cx="394.1" cy="241.7" r="5.6"/><circle cx="394.3" cy="243.5" r="5.6"/><circle cx="394.4" cy="245.3" r="5.6"/><circle cx="394.5" cy="247.1" r="5.6"/><circle cx="394.7" cy="248.9" r="5.6"/><circle cx="394.8" cy="250.7" r="5.6"/><circle cx="394.9" cy="252.5" r="5.6"/><circle cx="395.1" cy="254.3" r="5.6"/><circle cx="395.2" cy="256.1" r="5.6"/><circle cx="395.3" cy="257.9" r="5.6"/><circle cx="395.5" cy="259.7" r="5.6"/><circle cx="395.6" cy="261.5" r="5.6"/><circle cx="395.6" cy="263.3" r="5.6"/><circle cx="395.7" cy="265.1" r="5.6"/><circle cx="395.8" cy="266.9" r="5.6"/><circle cx="395.8" cy="268.7" r="5.6"/><circle cx="395.9" cy="270.5" r="5.6"/><circle cx="396.0" cy="272.3" r="5.6"/><circle cx="396.0" cy="274.1" r="5.6"/><circle cx="396.1" cy="275.9" r="5.6"/><circle cx="396.2" cy="277.7" r="5.6"/><circle cx="396.2" cy="279.5" r="5.6"/><circle cx="396.3" cy="281.3" r="5.6"/><circle cx="396.4" cy="283.1" r="5.6"/><circle cx="396.4" cy="284.9" r="5.6"/><circle cx="396.5" cy="286.7" r="5.6"/><circle cx="396.6" cy="288.5" r="5.6"/><circle cx="396.6" cy="290.3" r="5.6"/><circle cx="396.7" cy="292.1" r="5.6"/><circle cx="396.8" cy="293.9" r="5.6"/><circle cx="396.8" cy="295.7" r="5.6"/><circle cx="396.9" cy="297.5" r="5.6"/><circle cx="397.0" cy="299.3" r="5.6"/><circle cx="397.0" cy="301.1" r="5.6"/><circle cx="397.1" cy="302.9" r="5.6"/><circle cx="397.2" cy="304.7" r="5.6"/><circle cx="397.3" cy="306.5" r="5.6"/><circle cx="397.4" cy="308.3" r="5.6"/><circle cx="397.4" cy="310.1" r="5.6"/><circle cx="397.5" cy="311.9" r="5.6"/><circle cx="397.6" cy="313.7" r="5.6"/><circle cx="397.7" cy="315.5" r="5.6"/><circle cx="397.7" cy="317.3" r="5.6"/><circle cx="397.8" cy="319.1" r="5.6"/><circle cx="397.9" cy="320.9" r="5.6"/><circle cx="398.0" cy="322.7" r="5.6"/><circle cx="398.1" cy="324.5" r="5.6"/><circle cx="398.1" cy="326.3" r="5.6"/><circle cx="398.2" cy="328.1" r="5.6"/><circle cx="398.3" cy="329.9" r="5.6"/><circle cx="398.4" cy="331.7" r="5.6"/><circle cx="398.4" cy="333.5" r="5.6"/><circle cx="398.5" cy="335.3" r="5.6"/><circle cx="398.6" cy="337.1" r="5.6"/><circle cx="398.7" cy="338.9" r="5.6"/><circle cx="398.7" cy="340.7" r="5.6"/><circle cx="398.8" cy="342.5" r="5.6"/><circle cx="398.9" cy="344.3" r="5.6"/><circle cx="398.9" cy="346.1" r="5.6"/><circle cx="399.0" cy="347.9" r="5.6"/><circle cx="399.1" cy="349.7" r="5.6"/><circle cx="399.2" cy="351.5" r="5.6"/><circle cx="399.2" cy="353.3" r="5.6"/><circle cx="399.3" cy="355.1" r="5.6"/><circle cx="399.4" cy="356.9" r="5.6"/><circle cx="399.4" cy="358.7" r="5.6"/><circle cx="399.5" cy="360.5" r="5.6"/><circle cx="399.7" cy="362.3" r="5.6"/><circle cx="399.8" cy="364.1" r="5.6"/><circle cx="400.0" cy="365.9" r="5.6"/><circle cx="400.1" cy="367.7" r="5.6"/><circle cx="400.3" cy="369.5" r="5.6"/><circle cx="400.4" cy="371.3" r="5.6"/><circle cx="400.6" cy="373.1" r="5.6"/><circle cx="400.7" cy="374.9" r="5.6"/><circle cx="400.8" cy="376.7" r="5.6"/><circle cx="401.0" cy="378.5" r="5.6"/><circle cx="401.1" cy="380.3" r="5.6"/><circle cx="401.2" cy="382.1" r="5.6"/><circle cx="401.3" cy="383.9" r="5.6"/><circle cx="401.4" cy="385.7" r="5.6"/><circle cx="401.5" cy="387.5" r="5.6"/><circle cx="401.6" cy="389.3" r="5.6"/><circle cx="401.7" cy="391.1" r="5.6"/><circle cx="401.8" cy="392.9" r="5.6"/><circle cx="402.0" cy="394.7" r="5.6"/><circle cx="402.1" cy="396.5" r="5.6"/><circle cx="402.2" cy="398.3" r="5.6"/><circle cx="402.3" cy="400.1" r="5.6"/><circle cx="402.4" cy="401.9" r="5.6"/><circle cx="402.5" cy="403.7" r="5.6"/><circle cx="402.6" cy="405.5" r="5.6"/><circle cx="402.8" cy="407.3" r="5.6"/><circle cx="402.9" cy="409.1" r="5.6"/><circle cx="402.9" cy="410.9" r="5.6"/><circle cx="403.0" cy="412.7" r="5.6"/><circle cx="403.1" cy="414.5" r="5.6"/><circle cx="403.2" cy="416.3" r="5.6"/><circle cx="403.3" cy="418.1" r="5.6"/><circle cx="403.3" cy="419.9" r="5.6"/><circle cx="403.4" cy="421.7" r="5.6"/><circle cx="403.5" cy="423.5" r="5.6"/><circle cx="403.6" cy="425.3" r="5.6"/><circle cx="403.7" cy="427.1" r="5.6"/><circle cx="403.8" cy="428.9" r="5.6"/><circle cx="403.9" cy="430.7" r="5.6"/><circle cx="404.0" cy="432.5" r="5.6"/><circle cx="404.2" cy="434.3" r="5.6"/><circle cx="404.5" cy="436.1" r="5.6"/><circle cx="404.8" cy="437.9" r="5.6"/><circle cx="405.1" cy="439.7" r="5.6"/><circle cx="405.4" cy="441.5" r="5.6"/><circle cx="405.8" cy="443.3" r="5.6"/><circle cx="406.2" cy="445.1" r="5.6"/><circle cx="407.2" cy="446.5" r="5.6"/><circle cx="421.5" cy="450.2" r="5.6"/><circle cx="425.0" cy="450.8" r="5.6"/><circle cx="431.5" cy="454.6" r="5.6"/><circle cx="435.0" cy="455.3" r="5.6"/></g>
<g fill="none" stroke="#000" stroke-width="1"><circle cx="252.6" cy="9.1" r="5.2"/><circle cx="252.6" cy="14.1" r="5.2"/><circle cx="288.0" cy="19.1" r="5.2"/><circle cx="293.4" cy="24.0" r="5.2"/><circle cx="306.7" cy="29.0" r="5.2"/><circle cx="310.4" cy="33.9" r="5.2"/><circle cx="311.9" cy="38.9" r="5.2"/><circle cx="314.2" cy="43.8" r="5.2"/><circle cx="316.4" cy="48.8" r="5.2"/><circle cx="316.4" cy="53.7" r="5.2"/><circle cx="317.2" cy="58.7" r="5.2"/><circle cx="319.4" cy="63.6" r="5.2"/><circle cx="328.4" cy="68.6" r="5.2"/><circle cx="329.1" cy="73.5" r="5.2"/><circle cx="330.6" cy="78.5" r="5.2"/><circle cx="331.3" cy="83.4" r="5.2"/><circle cx="334.3" cy="88.4" r="5.2"/><circle cx="338.4" cy="93.3" r="5.2"/><circle cx="338.4" cy="98.3" r="5.2"/><circle cx="341.2" cy="103.2" r="5.2"/><circle cx="344.0" cy="108.2" r="5.2"/><circle cx="346.8" cy="113.1" r="5.2"/><circle cx="349.7" cy="118.1" r="5.2"/><circle cx="352.5" cy="123.1" r="5.2"/><circle cx="352.5" cy="128.0" r="5.2"/><circle cx="352.5" cy="133.0" r="5.2"/><circle cx="355.3" cy="137.9" r="5.2"/><circle cx="355.3" cy="142.9" r="5.2"/><circle cx="355.3" cy="147.8" r="5.2"/><circle cx="358.1" cy="152.8" r="5.2"/><circle cx="358.1" cy="157.7" r="5.2"/><circle cx="358.1" cy="162.7" r="5.2"/><circle cx="358.1" cy="167.6" r="5.2"/><circle cx="361.0" cy="172.6" r="5.2"/><circle cx="361.0" cy="177.5" r="5.2"/><circle cx="363.8" cy="182.5" r="5.2"/><circle cx="363.8" cy="187.4" r="5.2"/><circle cx="363.8" cy="192.4" r="5.2"/><circle cx="366.6" cy="197.3" r="5.2"/><circle cx="366.6" cy="202.3" r="5.2"/><circle cx="369.4" cy="207.2" r="5.2"/><circle cx="369.4" cy="212.2" r="5.2"/><circle cx="369.4" cy="217.1" r="5.2"/><circle cx="369.4" cy="222.1" r="5.2"/><circle cx="369.4" cy="227.0" r="5.2"/><circle cx="369.4" cy="232.0" r="5.2"/><circle cx="372.3" cy="237.0" r="5.2"/><circle cx="372.3" cy="241.9" r="5.2"/><circle cx="372.3" cy="246.9" r="5.2"/><circle cx="372.3" cy="251.8" r="5.2"/><circle cx="372.3" cy="256.8" r="5.2"/><circle cx="372.3" cy="261.7" r="5.2"/><circle cx="375.1" cy="266.7" r="5.2"/><circle cx="375.1" cy="271.6" r="5.2"/><circle cx="375.1" cy="276.6" r="5.2"/><circle cx="377.9" cy="281.5" r="5.2"/><circle cx="377.9" cy="286.5" r="5.2"/><circle cx="380.7" cy="291.4" r="5.2"/><circle cx="380.7" cy="296.4" r="5.2"/><circle cx="380.7" cy="301.3" r="5.2"/><circle cx="380.7" cy="306.3" r="5.2"/><circle cx="383.6" cy="311.2" r="5.2"/><circle cx="383.6" cy="316.2" r="5.2"/><circle cx="383.6" cy="321.1" r="5.2"/><circle cx="386.4" cy="326.1" r="5.2"/><circle cx="386.4" cy="331.0" r="5.2"/><circle cx="389.2" cy="336.0" r="5.2"/><circle cx="389.2" cy="340.9" r="5.2"/><circle cx="392.0" cy="345.9" r="5.2"/><circle cx="392.0" cy="350.9" r="5.2"/><circle cx="394.9" cy="355.8" r="5.2"/><circle cx="394.9" cy="360.8" r="5.2"/><circle cx="397.7" cy="365.7" r="5.2"/><circle cx="397.7" cy="370.7" r="5.2"/><circle cx="397.7" cy="375.6" r="5.2"/><circle cx="397.7" cy="380.6" r="5.2"/><circle cx="400.5" cy="385.5" r="5.2"/><circle cx="400.5" cy="390.5" r="5.2"/><circle cx="400.5" cy="395.4" r="5.2"/><circle cx="402.4" cy="400.4" r="5.2"/><circle cx="403.0" cy="405.3" r="5.2"/><circle cx="403.7" cy="410.3" r="5.2"/><circle cx="404.3" cy="415.2" r="5.2"/><circle cx="405.7" cy="420.2" r="5.2"/><circle cx="410.9" cy="425.1" r="5.2"/><circle cx="412.2" cy="430.1" r="5.2"/><circle cx="413.5" cy="435.0" r="5.2"/><circle cx="418.0" cy="440.0" r="5.2"/><circle cx="419.3" cy="444.9" r="5.2"/><circle cx="420.6" cy="449.9" r="5.2"/><circle cx="437.6" cy="454.8" r="5.2"/></g>
<path d="M307.3 2.1L313.6 13.1H301.0zM314.1 6.8L320.4 17.8H307.8zM327.6 11.4L333.9 22.4H321.3zM329.9 16.1L336.2 27.1H323.6zM332.2 20.7L338.5 31.7H325.9zM338.9 25.4L345.2 36.4H332.6zM338.9 30.0L345.2 41.0H332.6zM348.0 34.7L354.3 45.7H341.7zM348.0 39.3L354.3 50.3H341.7zM350.2 44.0L356.5 55.0H343.9zM350.2 48.6L356.5 59.6H343.9zM354.8 53.3L361.1 64.3H348.5zM357.0 57.9L363.3 68.9H350.7zM357.0 62.5L363.3 73.5H350.7zM357.0 67.2L363.3 78.2H350.7zM359.3 71.8L365.6 82.8H353.0zM361.5 76.5L367.8 87.5H355.2zM363.8 81.1L370.1 92.1H357.5zM366.1 85.8L372.4 96.8H359.8zM366.1 90.4L372.4 101.4H359.8zM368.3 95.1L374.6 106.1H362.0zM370.6 99.7L376.9 110.7H364.3zM372.8 104.4L379.1 115.4H366.5zM372.8 109.0L379.1 120.0H366.5zM375.1 113.7L381.4 124.7H368.8zM375.1 118.3L381.4 129.3H368.8zM377.4 122.9L383.7 133.9H371.1zM377.4 127.6L383.7 138.6H371.1zM379.6 132.2L385.9 143.2H373.3zM379.6 136.9L385.9 147.9H373.3zM379.6 141.5L385.9 152.5H373.3zM379.6 146.2L385.9 157.2H373.3zM379.6 150.8L385.9 161.8H373.3zM381.9 155.5L388.2 166.5H375.6zM381.9 160.1L388.2 171.1H375.6zM381.9 164.8L388.2 175.8H375.6zM381.9 169.4L388.2 180.4H375.6zM384.1 174.0L390.4 185.0H377.8zM386.4 178.7L392.7 189.7H380.1zM388.7 183.3L395.0 194.3H382.4zM388.7 188.0L395.0 199.0H382.4zM390.9 192.6L397.2 203.6H384.6zM393.2 197.3L399.5 208.3H386.9zM393.2 201.9L399.5 212.9H386.9zM393.2 206.6L399.5 217.6H386.9zM393.2 211.2L399.5 222.2H386.9zM395.4 215.9L401.7 226.9H389.1zM395.4 220.5L401.7 231.5H389.1zM397.7 225.2L404.0 236.2H391.4zM400.0 229.8L406.3 240.8H393.7zM400.0 234.4L406.3 245.4H393.7zM402.2 239.1L408.5 250.1H395.9zM402.2 243.7L408.5 254.7H395.9zM404.5 248.4L410.8 259.4H398.2zM404.5 253.0L410.8 264.0H398.2zM406.7 257.7L413.0 268.7H400.4zM406.7 262.3L413.0 273.3H400.4zM406.7 267.0L413.0 278.0H400.4zM406.7 271.6L413.0 282.6H400.4zM406.7 276.3L413.0 287.3H400.4zM406.7 280.9L413.0 291.9H400.4zM409.0 285.5L415.3 296.5H402.7zM409.0 290.2L415.3 301.2H402.7zM409.0 294.8L415.3 305.8H402.7zM409.0 299.5L415.3 310.5H402.7zM411.3 304.1L417.6 315.1H405.0zM411.3 308.8L417.6 319.8H405.0zM411.3 313.4L417.6 324.4H405.0zM413.5 318.1L419.8 329.1H407.2zM415.8 322.7L422.1 333.7H409.5zM415.8 327.4L422.1 338.4H409.5zM418.0 332.0L424.3 343.0H411.7zM418.0 336.7L424.3 347.7H411.7zM420.3 341.3L426.6 352.3H414.0zM420.3 345.9L426.6 356.9H414.0zM420.3 350.6L426.6 361.6H414.0zM422.6 355.2L428.9 366.2H416.3zM422.6 359.9L428.9 370.9H416.3zM424.8 364.5L431.1 375.5H418.5zM427.5 369.2L433.8 380.2H421.2zM433.4 373.8L439.7 384.8H427.1zM438.3 378.5L444.6 389.5H432.0zM438.3 383.1L444.6 394.1H432.0zM449.4 387.8L455.7 398.8H443.1zM458.5 392.4L464.8 403.4H452.2zM458.5 397.0L464.8 408.0H452.2zM466.2 401.7L472.5 412.7H459.9zM466.5 406.3L472.8 417.3H460.2zM467.6 411.0L473.9 422.0H461.3zM470.1 415.6L476.4 426.6H463.8zM471.0 420.3L477.3 431.3H464.7zM477.6 424.9L483.9 435.9H471.3zM498.5 429.6L504.8 440.6H492.2zM498.5 434.2L504.8 445.2H492.2zM524.6 438.9L530.9 449.9H518.3zM555.0 443.5L561.3 454.5H548.7zM601.7 448.2L608.0 459.2H595.4z" fill="none" stroke="#f00" stroke-width="1" stroke-linejoin="miter"/>
</g>
<rect x="70.0" y="9.15" width="565.0" height="455.45000000000005" fill="none" stroke="#000" stroke-width="1.6"/><path d="M70.00 464.6v4.4M70.00 9.15v-4.4M88.83 464.6v8.8M88.83 9.15v-8.8M107.67 464.6v4.4M107.67 9.15v-4.4M126.50 464.6v8.8M126.50 9.15v-8.8M145.33 464.6v4.4M145.33 9.15v-4.4M164.17 464.6v8.8M164.17 9.15v-8.8M183.00 464.6v4.4M183.00 9.15v-4.4M201.83 464.6v8.8M201.83 9.15v-8.8M220.67 464.6v4.4M220.67 9.15v-4.4M239.50 464.6v8.8M239.50 9.15v-8.8M258.33 464.6v4.4M258.33 9.15v-4.4M277.17 464.6v8.8M277.17 9.15v-8.8M296.00 464.6v4.4M296.00 9.15v-4.4M314.83 464.6v8.8M314.83 9.15v-8.8M333.67 464.6v4.4M333.67 9.15v-4.4M352.50 464.6v8.8M352.50 9.15v-8.8M371.33 464.6v4.4M371.33 9.15v-4.4M390.17 464.6v8.8M390.17 9.15v-8.8M409.00 464.6v4.4M409.00 9.15v-4.4M427.83 464.6v8.8M427.83 9.15v-8.8M446.67 464.6v4.4M446.67 9.15v-4.4M465.50 464.6v8.8M465.50 9.15v-8.8M484.33 464.6v4.4M484.33 9.15v-4.4M503.17 464.6v8.8M503.17 9.15v-8.8M522.00 464.6v4.4M522.00 9.15v-4.4M540.83 464.6v8.8M540.83 9.15v-8.8M559.67 464.6v4.4M559.67 9.15v-4.4M578.50 464.6v8.8M578.50 9.15v-8.8M597.33 464.6v4.4M597.33 9.15v-4.4M616.17 464.6v8.8M616.17 9.15v-8.8M635.00 464.6v4.4M635.00 9.15v-4.4M70.0 459.80h-8.8M635.0 459.80h8.8M70.0 414.74h-4.4M635.0 414.74h4.4M70.0 369.67h-8.8M635.0 369.67h8.8M70.0 324.61h-4.4M635.0 324.61h4.4M70.0 279.54h-8.8M635.0 279.54h8.8M70.0 234.47h-4.4M635.0 234.47h4.4M70.0 189.41h-8.8M635.0 189.41h8.8M70.0 144.35h-4.4M635.0 144.35h4.4M70.0 99.28h-8.8M635.0 99.28h8.8M70.0 54.21h-4.4M635.0 54.21h4.4M70.0 9.15h-8.8M635.0 9.15h8.8" stroke="#000" stroke-width="1.6" fill="none"/>
<rect x="408.1" y="9.15" width="57.5" height="455.5" fill="#0ff" fill-opacity="0.6"/><rect x="540.6" y="9.15" width="37.8" height="455.5" fill="#0f0" fill-opacity="0.4"/><rect x="510.5" y="9.15" width="35.9" height="455.5" fill="#f0f" fill-opacity="0.62"/>
<rect x="90" y="123.6" width="225" height="129.1" fill="#fff"/><path d="M109.4 128.79999999999998l3.9 3.8 -3.9 3.8 -3.9 -3.8z" fill="#000"/><rect x="104.30000000000001" y="143.64999999999998" width="10.2" height="9.8" fill="#008000"/><circle cx="109.4" cy="164.29999999999998" r="5.7" fill="#f0f"/><circle cx="109.4" cy="180.14999999999998" r="5.3" fill="none" stroke="#000" stroke-width="1"/><path d="M109.4 189.2L116.0 200.2H102.80000000000001z" fill="none" stroke="#f00" stroke-width="1"/><rect x="95" y="204.9" width="28.7" height="13.8" fill="#0ff" fill-opacity="0.6"/><rect x="95" y="220.8" width="28.7" height="13.8" fill="#0f0" fill-opacity="0.4"/><rect x="95" y="236.7" width="28.7" height="13.8" fill="#f0f" fill-opacity="0.62"/><text x="127.5" y="136.8" font-size="13px" style="stroke-width:0.15px;fill:#111;stroke:#111">1 µl Pure water</text><text x="127.5" y="152.6" font-size="13px" style="stroke-width:0.15px;fill:#111;stroke:#111">1 µl Hornbeam</text><text x="127.5" y="168.5" font-size="13px" style="stroke-width:0.15px;fill:#111;stroke:#111">1 µl Birch</text><text x="127.5" y="184.3" font-size="13px" style="stroke-width:0.15px;fill:#111;stroke:#111">100 µl sterile water (Daily et al.)</text><text x="127.5" y="200.2" font-size="13px" style="stroke-width:0.15px;fill:#111;stroke:#111">100 µl not sterile (Daily et al.)</text><text x="127.5" y="216.0" font-size="13px" style="stroke-width:0.15px;fill:#111;stroke:#111">100 µl Pure water</text><text x="127.5" y="231.9" font-size="13px" style="stroke-width:0.15px;fill:#111;stroke:#111">100 µl Hornbeam Viafreeze</text><text x="127.5" y="247.8" font-size="13px" style="stroke-width:0.15px;fill:#111;stroke:#111">100 µl Birch Viafreeze</text>
<g font-size="19.5px"><text x="88.8" y="494.6" text-anchor="middle">-32</text><text x="126.5" y="494.6" text-anchor="middle">-30</text><text x="164.2" y="494.6" text-anchor="middle">-28</text><text x="201.8" y="494.6" text-anchor="middle">-26</text><text x="239.5" y="494.6" text-anchor="middle">-24</text><text x="277.2" y="494.6" text-anchor="middle">-22</text><text x="314.8" y="494.6" text-anchor="middle">-20</text><text x="352.5" y="494.6" text-anchor="middle">-18</text><text x="390.2" y="494.6" text-anchor="middle">-16</text><text x="427.8" y="494.6" text-anchor="middle">-14</text><text x="465.5" y="494.6" text-anchor="middle">-12</text><text x="503.2" y="494.6" text-anchor="middle">-10</text><text x="540.8" y="494.6" text-anchor="middle">-8</text><text x="578.5" y="494.6" text-anchor="middle">-6</text><text x="616.2" y="494.6" text-anchor="middle">-4</text><text x="54.7" y="465.8" text-anchor="end">0.0</text><text x="54.7" y="375.7" text-anchor="end">0.2</text><text x="54.7" y="285.5" text-anchor="end">0.4</text><text x="54.7" y="195.4" text-anchor="end">0.6</text><text x="54.7" y="105.3" text-anchor="end">0.8</text><text x="54.7" y="15.1" text-anchor="end">1.0</text></g>
<text x="353" y="530.8" font-size="23.8px" text-anchor="middle">Temperature (°C)</text><text transform="translate(18.3 236.1) rotate(-90)" font-size="23.7px" text-anchor="middle">Droplet fraction frozen</text>
</svg>
</body></html>
